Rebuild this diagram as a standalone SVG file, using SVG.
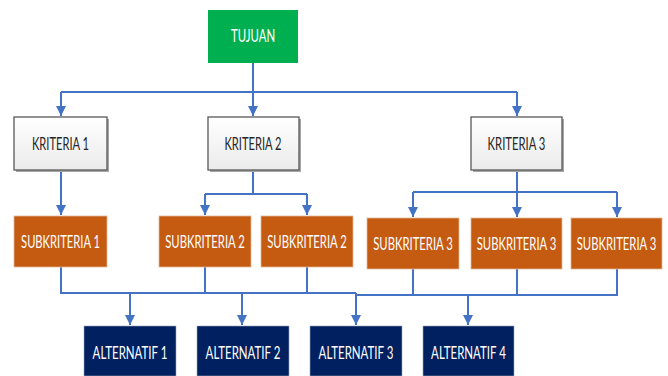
<svg xmlns="http://www.w3.org/2000/svg" width="668" height="376" viewBox="0 0 668 376">
<style>
.lbl{font-family:Lato,"Open Sans","Liberation Sans",sans-serif;font-size:17px;text-anchor:middle}
.w{fill:#ffffff}
.d{fill:#262626}
.green{fill:#00B050}
.krit{fill:url(#kg);stroke:#595959;stroke-width:1.3}
.shadow{fill:#a6a6a6}
.sub{fill:#C55A11;stroke:#e0b89a;stroke-width:0.8}
.alt{fill:#002060;stroke:#9aa6bd;stroke-width:0.6}
.c{fill:none;stroke:#4472C4;stroke-width:2}
.ca{fill:none;stroke:#4472C4;stroke-width:2;marker-end:url(#ah)}
</style>
<defs>
<linearGradient id="kg" x1="0" y1="0" x2="0" y2="1">
<stop offset="0" stop-color="#ffffff"/>
<stop offset="1" stop-color="#ebebeb"/>
</linearGradient>
<marker id="ah" viewBox="0 0 10 10" refX="10" refY="5" markerWidth="5" markerHeight="5" orient="auto" markerUnits="strokeWidth">
<path d="M0,0 L10,5 L0,10 z" fill="#4472C4"/>
</marker>
</defs>
<rect width="668" height="376" fill="#ffffff"/>
<g id="connectors">
<path class="ca" d="M253,63 V116"/>
<path class="c" d="M61,92 H517"/>
<path class="ca" d="M61,92 V116"/>
<path class="ca" d="M517,92 V116"/>
<path class="ca" d="M61,170 V215"/>
<path class="c" d="M253,170 V194 M205,194 H307"/>
<path class="ca" d="M205,194 V215"/>
<path class="ca" d="M307,194 V215"/>
<path class="c" d="M517,170 V192 M413,192 H617"/>
<path class="ca" d="M413,192 V217"/>
<path class="ca" d="M517,192 V217"/>
<path class="ca" d="M617,192 V217"/>
<path class="c" d="M61,267 V293 H356 M205,267 V293 M307,267 V293"/>
<path class="ca" d="M130,293 V325"/>
<path class="ca" d="M242,293 V325"/>
<path class="ca" d="M356,293 V325"/>
<path class="c" d="M356,295 H617 V269 M413,269 V295 M517,269 V295"/>
<path class="ca" d="M468,295 V325"/>
</g>
<g id="tujuan">
<rect class="green" x="208" y="10" width="90" height="53"/>
<text class="lbl w" transform="translate(253,42) scale(0.68,1)" textLength="65" lengthAdjust="spacingAndGlyphs">TUJUAN</text>
</g>
<g id="kriteria1">
<rect class="shadow" x="16" y="119" width="93" height="53"/>
<rect class="krit" x="14" y="117" width="93" height="53"/>
<text class="lbl d" transform="translate(60.5,150) scale(0.68,1)" textLength="84" lengthAdjust="spacingAndGlyphs">KRITERIA 1</text>
</g>
<g id="kriteria2">
<rect class="shadow" x="210" y="119" width="91" height="53"/>
<rect class="krit" x="208" y="117" width="91" height="53"/>
<text class="lbl d" transform="translate(253,150) scale(0.68,1)" textLength="84" lengthAdjust="spacingAndGlyphs">KRITERIA 2</text>
</g>
<g id="kriteria3">
<rect class="shadow" x="473" y="119" width="91" height="53"/>
<rect class="krit" x="471" y="117" width="91" height="53"/>
<text class="lbl d" transform="translate(516.5,150) scale(0.68,1)" textLength="85" lengthAdjust="spacingAndGlyphs">KRITERIA 3</text>
</g>
<g id="sub1">
<rect class="sub" x="14" y="216" width="93" height="51"/>
<text class="lbl w" transform="translate(60.5,248) scale(0.68,1)" textLength="116" lengthAdjust="spacingAndGlyphs">SUBKRITERIA 1</text>
</g>
<g id="sub2a">
<rect class="sub" x="159" y="216" width="92" height="51"/>
<text class="lbl w" transform="translate(205,248) scale(0.68,1)" textLength="117" lengthAdjust="spacingAndGlyphs">SUBKRITERIA 2</text>
</g>
<g id="sub2b">
<rect class="sub" x="261" y="216" width="92" height="51"/>
<text class="lbl w" transform="translate(307,248) scale(0.68,1)" textLength="117" lengthAdjust="spacingAndGlyphs">SUBKRITERIA 2</text>
</g>
<g id="sub3a">
<rect class="sub" x="367" y="218" width="92" height="51"/>
<text class="lbl w" transform="translate(413,250) scale(0.68,1)" textLength="117" lengthAdjust="spacingAndGlyphs">SUBKRITERIA 3</text>
</g>
<g id="sub3b">
<rect class="sub" x="471" y="218" width="91" height="51"/>
<text class="lbl w" transform="translate(516.5,250) scale(0.68,1)" textLength="117" lengthAdjust="spacingAndGlyphs">SUBKRITERIA 3</text>
</g>
<g id="sub3c">
<rect class="sub" x="571" y="218" width="91" height="51"/>
<text class="lbl w" transform="translate(616.5,250) scale(0.68,1)" textLength="117" lengthAdjust="spacingAndGlyphs">SUBKRITERIA 3</text>
</g>
<g id="alt1">
<rect class="alt" x="84" y="326" width="92" height="50"/>
<text class="lbl w" transform="translate(130,359) scale(0.68,1)" textLength="110" lengthAdjust="spacingAndGlyphs">ALTERNATIF 1</text>
</g>
<g id="alt2">
<rect class="alt" x="197" y="326" width="92" height="50"/>
<text class="lbl w" transform="translate(243,359) scale(0.68,1)" textLength="110" lengthAdjust="spacingAndGlyphs">ALTERNATIF 2</text>
</g>
<g id="alt3">
<rect class="alt" x="310" y="326" width="92" height="50"/>
<text class="lbl w" transform="translate(356,359) scale(0.68,1)" textLength="110" lengthAdjust="spacingAndGlyphs">ALTERNATIF 3</text>
</g>
<g id="alt4">
<rect class="alt" x="423" y="326" width="91" height="50"/>
<text class="lbl w" transform="translate(468.5,359) scale(0.68,1)" textLength="110" lengthAdjust="spacingAndGlyphs">ALTERNATIF 4</text>
</g>
</svg>
